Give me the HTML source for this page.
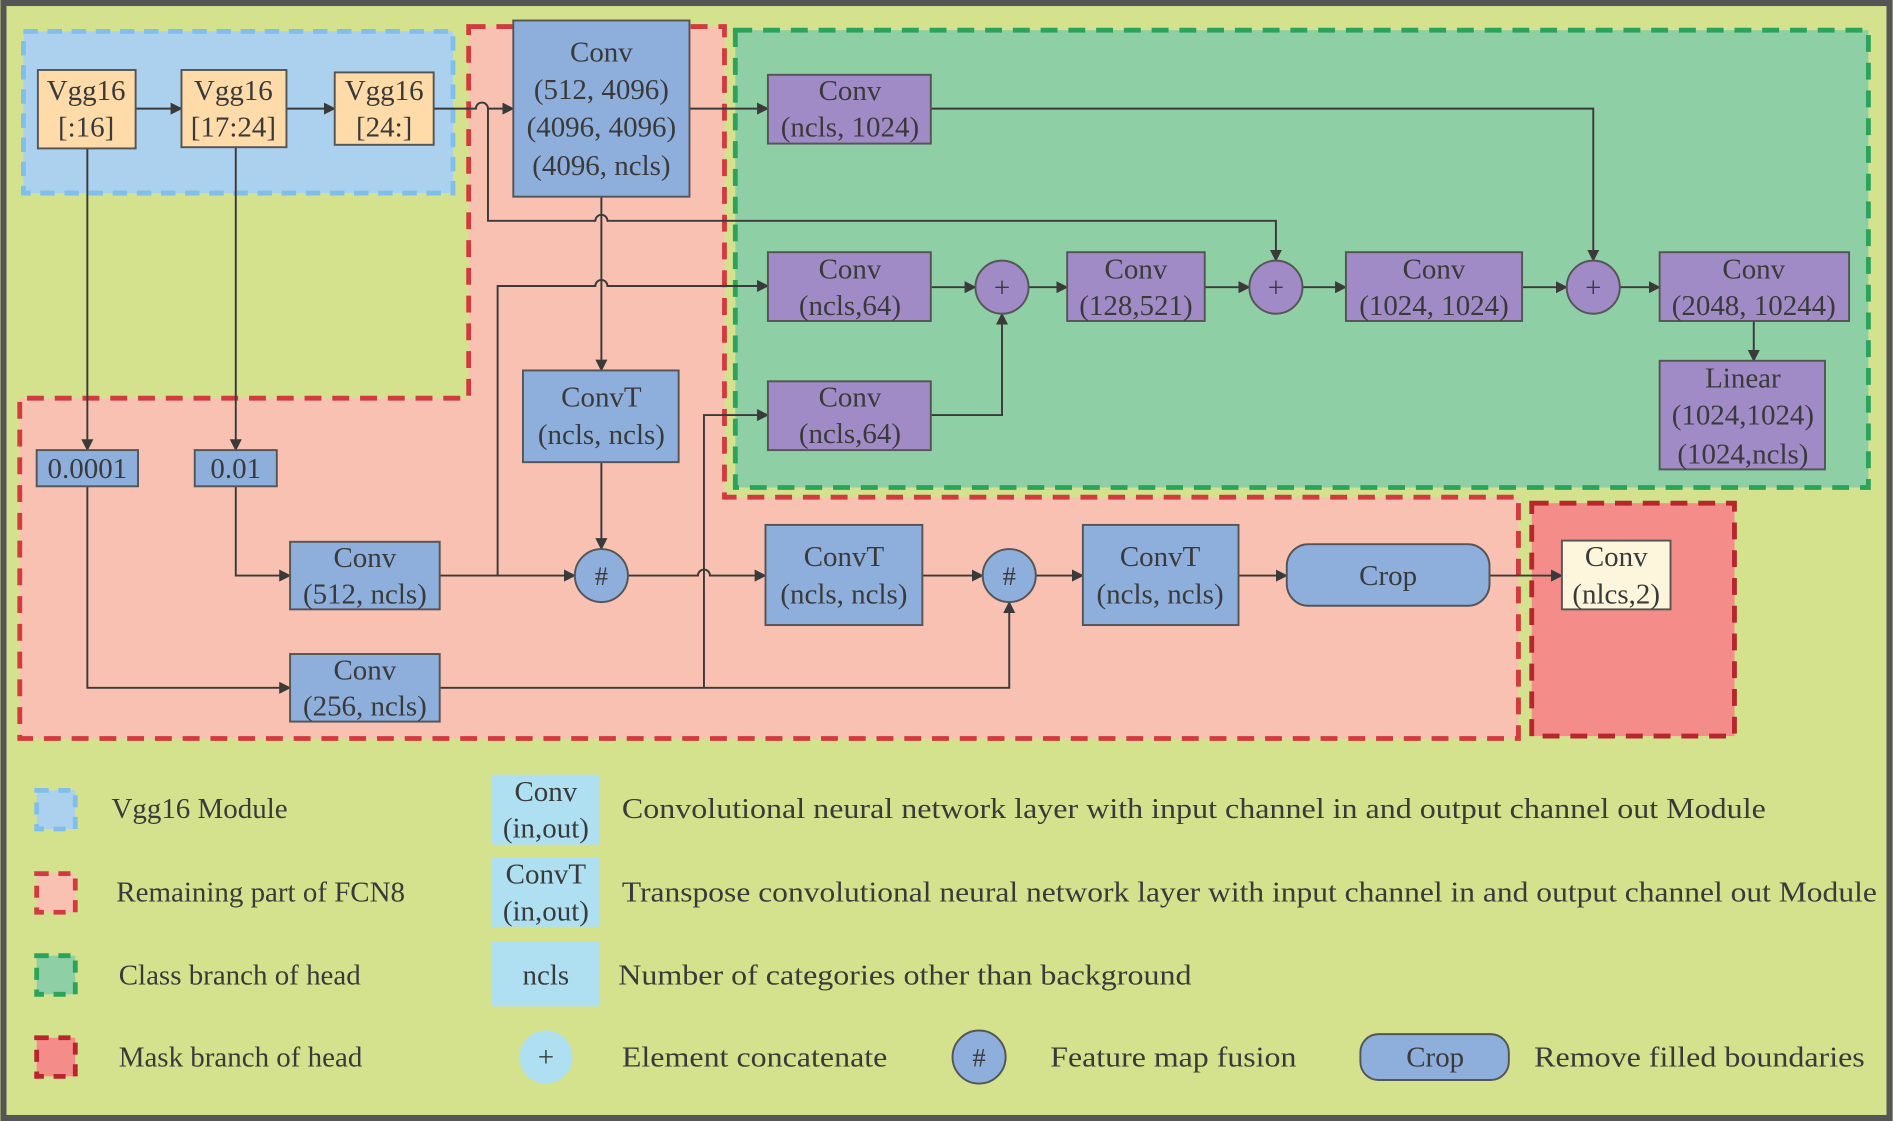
<!DOCTYPE html>
<html><head><meta charset="utf-8"><style>html,body{margin:0;padding:0;background:#d4e28d}svg{display:block}</style></head><body>
<svg width="1893" height="1121" viewBox="0 0 1568 929" xmlns="http://www.w3.org/2000/svg" font-family="'Liberation Serif', serif" font-size="24" fill="#3a3a3a">
<defs><marker id="a" markerWidth="10" markerHeight="10" refX="9" refY="5" orient="auto" markerUnits="userSpaceOnUse"><path d="M0,0 L10,5 L0,10 z" fill="#3a3a3a"/></marker></defs>
<rect x="2.5" y="2.5" width="1563" height="924" fill="#d4e28d" stroke="#555" stroke-width="5"/>
<!-- regions -->
<rect x="19" y="26" width="356" height="134" fill="#abd1ee" stroke="#7fbfea" stroke-width="4" stroke-dasharray="12,8"/>
<path d="M388,22 H600 V412 H1258 V612 H16 V330 H388 Z" fill="#f9c1b2" stroke="#d13a3f" stroke-width="4" stroke-dasharray="14,9"/>
<rect x="609" y="25" width="939" height="379" fill="#8ecfa5" stroke="#2ba35a" stroke-width="4" stroke-dasharray="14,9"/>
<rect x="1269" y="417" width="168" height="193" fill="#f48d89" stroke="#b5262d" stroke-width="4" stroke-dasharray="14,9"/>
<g stroke="#3a3a3a" stroke-width="1.6" fill="none">
<!-- vgg chain -->
<path d="M112,90 H150" marker-end="url(#a)"/>
<path d="M237,90 H277" marker-end="url(#a)"/>
<path d="M359,90 H394 a5,5 0 0 1 10,0 H425" marker-end="url(#a)"/>
<path d="M404,90 V183 H493 a5,5 0 0 1 10,0 H1057 V216" marker-end="url(#a)"/>
<path d="M571,90 H636" marker-end="url(#a)"/>
<path d="M771,90 H1320 V216" marker-end="url(#a)"/>
<path d="M498,163 V307" marker-end="url(#a)"/>
<path d="M498,383 V455" marker-end="url(#a)"/>
<path d="M72,123 V373" marker-end="url(#a)"/>
<path d="M195,122 V373" marker-end="url(#a)"/>
<path d="M195,403 V477 H240" marker-end="url(#a)"/>
<path d="M364,477 H476" marker-end="url(#a)"/>
<path d="M412,477 V237 H493 a5,5 0 0 1 10,0 H636" marker-end="url(#a)"/>
<path d="M520,477 H578 a5,5 0 0 1 10,0 H634" marker-end="url(#a)"/>
<path d="M72,403 V570 H240" marker-end="url(#a)"/>
<path d="M364,570 H836 V499" marker-end="url(#a)"/>
<path d="M583,570 V344 H636" marker-end="url(#a)"/>
<path d="M771,344 H830 V260" marker-end="url(#a)"/>
<path d="M771,238 H808" marker-end="url(#a)"/>
<path d="M852,238 H884" marker-end="url(#a)"/>
<path d="M998,238 H1035" marker-end="url(#a)"/>
<path d="M1079,238 H1115" marker-end="url(#a)"/>
<path d="M1261,238 H1298" marker-end="url(#a)"/>
<path d="M1342,238 H1375" marker-end="url(#a)"/>
<path d="M1453,266 V299" marker-end="url(#a)"/>
<path d="M764,477 H814" marker-end="url(#a)"/>
<path d="M858,477 H897" marker-end="url(#a)"/>
<path d="M1026,477 H1066" marker-end="url(#a)"/>
<path d="M1234,477 H1294" marker-end="url(#a)"/>
</g>
<g stroke="#555" stroke-width="1.6">
<rect x="31" y="58" width="81" height="65" fill="#fedba8"/>
<rect x="150" y="58" width="87" height="64" fill="#fedba8"/>
<rect x="277" y="60" width="82" height="60" fill="#fedba8"/>
<rect x="425" y="17" width="146" height="146" fill="#8eaedc"/>
<rect x="636" y="62" width="135" height="57" fill="#a08bc6"/>
<rect x="636" y="209" width="135" height="57" fill="#a08bc6"/>
<circle cx="830" cy="238" r="22" fill="#a08bc6"/>
<rect x="884" y="209" width="114" height="57" fill="#a08bc6"/>
<circle cx="1057" cy="238" r="22" fill="#a08bc6"/>
<rect x="1115" y="209" width="146" height="57" fill="#a08bc6"/>
<circle cx="1320" cy="238" r="22" fill="#a08bc6"/>
<rect x="1375" y="209" width="157" height="57" fill="#a08bc6"/>
<rect x="1375" y="299" width="137" height="90" fill="#a08bc6"/>
<rect x="636" y="316" width="135" height="57" fill="#a08bc6"/>
<rect x="433" y="307" width="129" height="76" fill="#8eaedc"/>
<rect x="30" y="373" width="84" height="30" fill="#8eaedc"/>
<rect x="161" y="373" width="68" height="30" fill="#8eaedc"/>
<rect x="240" y="449" width="124" height="56" fill="#8eaedc"/>
<circle cx="498" cy="477" r="22" fill="#8eaedc"/>
<rect x="634" y="435" width="130" height="83" fill="#8eaedc"/>
<circle cx="836" cy="477" r="22" fill="#8eaedc"/>
<rect x="897" y="435" width="129" height="83" fill="#8eaedc"/>
<rect x="1066" y="451" width="168" height="51" rx="18" fill="#8eaedc"/>
<rect x="1294" y="448" width="90" height="57" fill="#fdf6dc"/>
<rect x="240" y="542" width="124" height="56" fill="#8eaedc"/>
</g>
<g text-anchor="middle">
<text x="71" y="83">Vgg16</text><text x="71" y="113">[:16]</text>
<text x="193" y="83">Vgg16</text><text x="193" y="113">[17:24]</text>
<text x="318" y="83">Vgg16</text><text x="318" y="113">[24:]</text>
<text x="498" y="51">Conv</text><text x="498" y="82">(512, 4096)</text><text x="498" y="113">(4096, 4096)</text><text x="498" y="145">(4096, ncls)</text>
<text x="704" y="83">Conv</text><text x="704" y="113">(ncls, 1024)</text>
<text x="704" y="231">Conv</text><text x="704" y="261">(ncls,64)</text>
<text x="830" y="246">+</text>
<text x="941" y="231">Conv</text><text x="941" y="261">(128,521)</text>
<text x="1057" y="246">+</text>
<text x="1188" y="231">Conv</text><text x="1188" y="261">(1024, 1024)</text>
<text x="1320" y="246">+</text>
<text x="1453" y="231">Conv</text><text x="1453" y="261">(2048, 10244)</text>
<text x="1444" y="321">Linear</text><text x="1444" y="352">(1024,1024)</text><text x="1444" y="384">(1024,ncls)</text>
<text x="704" y="337">Conv</text><text x="704" y="367">(ncls,64)</text>
<text x="498" y="337">ConvT</text><text x="498" y="368">(ncls, ncls)</text>
<text x="72" y="396">0.0001</text>
<text x="195" y="396">0.01</text>
<text x="302" y="470">Conv</text><text x="302" y="500">(512, ncls)</text>
<text x="498" y="485" font-size="22">#</text>
<text x="699" y="469">ConvT</text><text x="699" y="500">(ncls, ncls)</text>
<text x="836" y="485" font-size="22">#</text>
<text x="961" y="469">ConvT</text><text x="961" y="500">(ncls, ncls)</text>
<text x="1150" y="485">Crop</text>
<text x="1339" y="469">Conv</text><text x="1339" y="500">(nlcs,2)</text>
<text x="302" y="563">Conv</text><text x="302" y="593">(256, ncls)</text>
</g>
<!-- legend -->
<rect x="30" y="655" width="32" height="32" fill="#abd1ee" stroke="#7fbfea" stroke-width="4" stroke-dasharray="10,8"/>
<rect x="30" y="724" width="32" height="32" fill="#f9c1b2" stroke="#d13a3f" stroke-width="4" stroke-dasharray="10,8"/>
<rect x="30" y="792" width="32" height="32" fill="#8ecfa5" stroke="#2ba35a" stroke-width="4" stroke-dasharray="10,8"/>
<rect x="30" y="860" width="32" height="32" fill="#f48d89" stroke="#b5262d" stroke-width="4" stroke-dasharray="10,8"/>
<text x="92" y="678">Vgg16 Module</text>
<text x="96" y="747">Remaining part of FCN8</text>
<text x="98" y="816">Class branch of head</text>
<text x="98" y="884">Mask branch of head</text>
<rect x="407" y="642" width="89" height="58" fill="#aee0f2"/>
<rect x="407" y="711" width="89" height="57" fill="#aee0f2"/>
<rect x="407" y="780" width="89" height="54" fill="#aee0f2"/>
<g text-anchor="middle">
<text x="452" y="664">Conv</text><text x="452" y="694">(in,out)</text>
<text x="452" y="732">ConvT</text><text x="452" y="763">(in,out)</text>
<text x="452" y="816">ncls</text>
</g>
<text x="515" y="678" textLength="948" lengthAdjust="spacingAndGlyphs">Convolutional neural network layer with input channel in and output channel out Module</text>
<text x="515" y="747" textLength="1040" lengthAdjust="spacingAndGlyphs">Transpose convolutional neural network layer with input channel in and output channel out Module</text>
<text x="512" y="816" textLength="475" lengthAdjust="spacingAndGlyphs">Number of categories other than background</text>
<circle cx="452" cy="876" r="22" fill="#aee0f2"/>
<text x="452" y="884" text-anchor="middle">+</text>
<text x="515" y="884" textLength="220" lengthAdjust="spacingAndGlyphs">Element concatenate</text>
<circle cx="811" cy="876" r="22" fill="#8eaedc" stroke="#555" stroke-width="1.6"/>
<text x="811" y="884" text-anchor="middle" font-size="22">#</text>
<text x="870" y="884" textLength="204" lengthAdjust="spacingAndGlyphs">Feature map fusion</text>
<rect x="1127" y="857" width="123" height="38" rx="15" fill="#8eaedc" stroke="#555" stroke-width="1.6"/>
<text x="1189" y="884" text-anchor="middle">Crop</text>
<text x="1271" y="884" textLength="274" lengthAdjust="spacingAndGlyphs">Remove filled boundaries</text>
</svg>
</body></html>
